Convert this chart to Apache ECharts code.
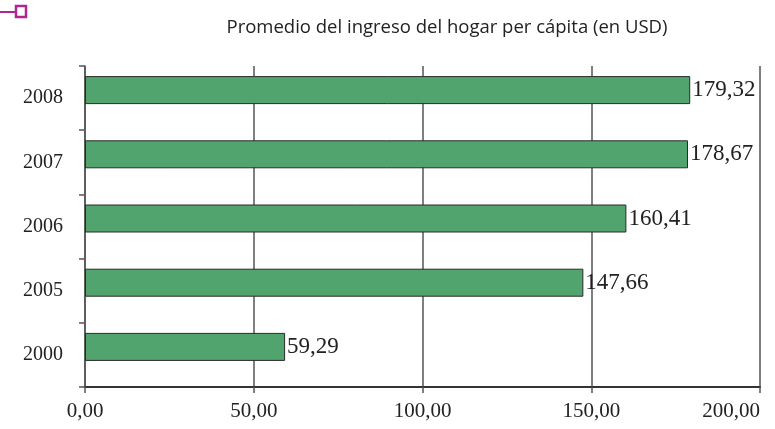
<!DOCTYPE html>
<html><head><meta charset="utf-8">
<script src="https://cdn.jsdelivr.net/npm/echarts@6/dist/echarts.min.js"></script>
<style>html,body{margin:0;padding:0;background:#fff}#c{width:775px;height:429px}</style>
</head><body><div id="c"></div>
<script>
const titleText = 'Promedio del ingreso del hogar per cápita (en USD)';
const categories = ['2000', '2005', '2006', '2007', '2008'];
const values = [59.29, 147.66, 160.41, 178.67, 179.32];
const xTicks = [0, 50, 100, 150, 200];

const fmt = v => v.toFixed(2).replace('.', ',');
const chart = echarts.init(document.getElementById('c'));
const serif = '"Liberation Serif", "DejaVu Serif", serif';
chart.setOption({
  animation: false,
  title: {text: titleText, left: 442, top: 13, textAlign: 'center',
    textStyle: {fontFamily: '"Open Sans", "Noto Sans", sans-serif', fontSize: 18.5, fontWeight: 'normal', color: '#222'}},
  graphic: [
    {type: 'line', shape: {x1: 0, y1: 12, x2: 15, y2: 12}, style: {stroke: '#b0258f', lineWidth: 2}},
    {type: 'rect', shape: {x: 16, y: 6, width: 10, height: 11}, style: {fill: '#fff', stroke: '#b0258f', lineWidth: 2.5}}
  ],
  grid: {left: 85, right: 15, top: 66, bottom: 42, outerBoundsMode: 'none', containLabel: false},
  xAxis: {type: 'value', min: xTicks[0], max: xTicks[xTicks.length - 1], interval: 50,
    axisLine: {show: true, lineStyle: {color: '#333', width: 2}},
    axisTick: {show: true, length: 6, lineStyle: {color: '#555', width: 1.5}},
    splitLine: {show: true, lineStyle: {color: '#555', width: 1.5}},
    axisLabel: {margin: 14, formatter: v => fmt(v), fontFamily: serif, fontSize: 21, color: '#222',
      alignMaxLabel: 'right'}},
  yAxis: {type: 'category', data: categories,
    axisLine: {show: true, lineStyle: {color: '#555', width: 1.5}},
    axisTick: {show: true, length: 6, lineStyle: {color: '#555', width: 1.5}},
    axisLabel: {margin: 22, fontFamily: serif, fontSize: 20, color: '#222', padding: [4, 0, 0, 0]}},
  series: [
    {type: 'bar', data: values, barWidth: 28, barGap: 0,
      itemStyle: {color: '#52a46e', borderColor: '#2a2a2a', borderWidth: 1},
      label: {show: true, position: 'right', distance: 2, formatter: p => fmt(p.value),
        fontFamily: serif, fontSize: 23, color: '#222'}},
    {type: 'bar', data: values.map(() => 0), barWidth: 16, silent: true,
      itemStyle: {color: 'rgba(0,0,0,0)', borderWidth: 0}}
  ]
});
</script></body></html>
